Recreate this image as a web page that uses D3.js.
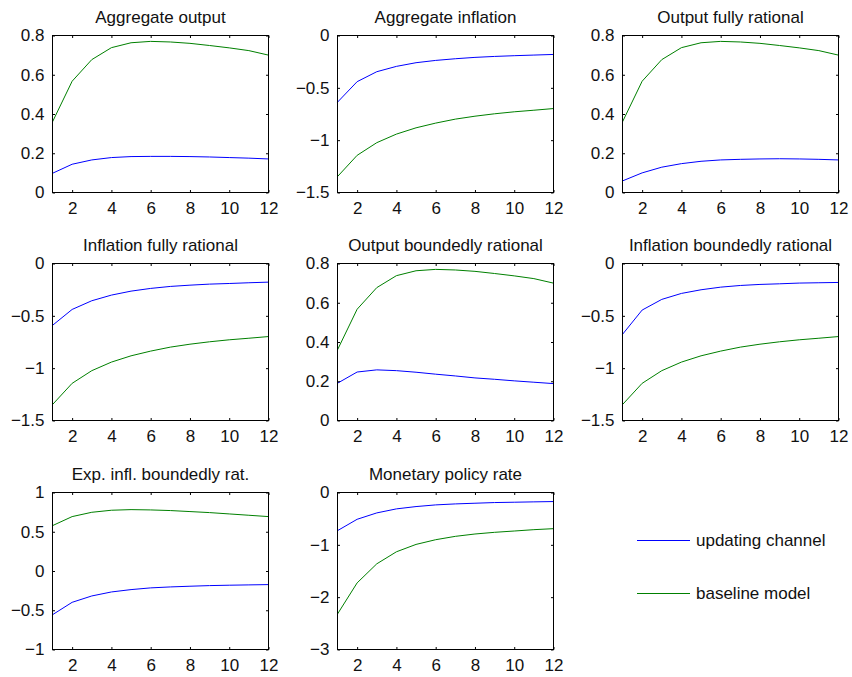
<!DOCTYPE html>
<html>
<head>
<meta charset="utf-8">
<script src="https://cdn.jsdelivr.net/npm/d3@7"></script>
<style>
  html, body { margin: 0; padding: 0; background: #fff; }
  svg { display: block; }
  text { font-family: "Liberation Sans", Arial, Helvetica, sans-serif; fill: #111; }
</style>
</head>
<body>
<svg id="chart" width="852" height="677"></svg>
<script>
// ---------- data ----------
const periods = [1, 2, 3, 4, 5, 6, 7, 8, 9, 10, 11, 12];
const xTickValues = [2, 4, 6, 8, 10, 12];

const titles = [
  "Aggregate output", "Aggregate inflation", "Output fully rational",
  "Inflation fully rational", "Output boundedly rational", "Inflation boundedly rational",
  "Exp. infl. boundedly rat.", "Monetary policy rate"
];

const seriesNames = ["updating channel", "baseline model"];

// y tick sets
const yTicksOutput = [0, 0.2, 0.4, 0.6, 0.8];
const yTicksInflation = [-1.5, -1, -0.5, 0];
const yTicksExpInfl = [-1, -0.5, 0, 0.5, 1];
const yTicksRate = [-3, -2, -1, 0];

// updating channel (blue)
const aggOutputUpd   = [0.098, 0.144, 0.166, 0.178, 0.183, 0.184, 0.184, 0.183, 0.181, 0.178, 0.175, 0.171];
const aggInflUpd     = [-0.637, -0.441, -0.346, -0.295, -0.260, -0.238, -0.222, -0.209, -0.200, -0.193, -0.187, -0.181];
const outFullUpd     = [0.059, 0.100, 0.129, 0.147, 0.159, 0.166, 0.169, 0.171, 0.172, 0.171, 0.169, 0.166];
const inflFullUpd    = [-0.591, -0.439, -0.356, -0.302, -0.264, -0.238, -0.219, -0.207, -0.197, -0.191, -0.184, -0.178];
const outBoundUpd    = [0.190, 0.247, 0.258, 0.254, 0.246, 0.236, 0.227, 0.217, 0.210, 0.202, 0.195, 0.188];
const inflBoundUpd   = [-0.677, -0.445, -0.343, -0.286, -0.251, -0.226, -0.210, -0.200, -0.194, -0.187, -0.184, -0.181];
const expInflUpd     = [-0.557, -0.399, -0.318, -0.267, -0.237, -0.215, -0.203, -0.194, -0.186, -0.181, -0.177, -0.173];
const rateUpd        = [-0.729, -0.512, -0.390, -0.313, -0.269, -0.237, -0.218, -0.205, -0.192, -0.186, -0.179, -0.173];

// baseline model (green)
const outputBase     = [0.360, 0.567, 0.677, 0.738, 0.763, 0.770, 0.767, 0.760, 0.749, 0.737, 0.723, 0.700];
const inflationBase  = [-1.348, -1.145, -1.024, -0.942, -0.882, -0.837, -0.799, -0.771, -0.748, -0.729, -0.714, -0.698];
const expInflBase    = [0.578, 0.693, 0.748, 0.774, 0.782, 0.778, 0.770, 0.757, 0.744, 0.727, 0.710, 0.693];
const rateBase       = [-2.322, -1.727, -1.363, -1.133, -0.992, -0.902, -0.838, -0.793, -0.761, -0.736, -0.710, -0.691];

// ---------- panels built from the arrays ----------
const panelUpd  = [aggOutputUpd, aggInflUpd, outFullUpd, inflFullUpd, outBoundUpd, inflBoundUpd, expInflUpd, rateUpd];
const panelBase = [outputBase, inflationBase, outputBase, inflationBase, outputBase, inflationBase, expInflBase, rateBase];
const panelTicks = [yTicksOutput, yTicksInflation, yTicksOutput, yTicksInflation, yTicksOutput, yTicksInflation, yTicksExpInfl, yTicksRate];

// ---------- layout ----------
const colLeft = [52.5, 337.5, 622.5];
const rowTop = [35.5, 263.5, 492.5];
const pw = 216, ph = 157;
const colors = ["#0000ff", "#008000"];
const fontSize = 17;
const tickLen = 2.5;

const svg = d3.select("#chart");
svg.append("rect").attr("width", 852).attr("height", 677).attr("fill", "#fff");

const fmt = v => (v < 0 ? "\u2212" : "") + String(Math.abs(v)).replace(/^0\./, "0.");

titles.forEach((title, i) => {
  const r = Math.floor(i / 3), c = i % 3;
  const g = svg.append("g").attr("transform", `translate(${colLeft[c]},${rowTop[r]})`);
  const yt = panelTicks[i];
  const x = d3.scaleLinear().domain([1, 12]).range([0, pw]);
  const y = d3.scaleLinear().domain([d3.min(yt), d3.max(yt)]).range([ph, 0]);

  // lines
  const line = d3.line().x((d, k) => x(periods[k])).y(d => y(d));
  [panelUpd[i], panelBase[i]].forEach((vals, s) => {
    g.append("path").datum(vals)
      .attr("fill", "none").attr("stroke", colors[s]).attr("stroke-width", 1)
      .attr("d", line);
  });

  // bottom axis (labels + inward ticks)
  const xb = d3.axisBottom(x).tickValues(xTickValues).tickSize(-tickLen).tickPadding(9).tickFormat(d3.format("d"));
  const gx = g.append("g").attr("transform", `translate(0,${ph})`).call(xb);
  const xt = d3.axisTop(x).tickValues(xTickValues).tickSize(-tickLen).tickFormat("");
  const gxt = g.append("g").call(xt);
  const yl = d3.axisLeft(y).tickValues(yt).tickSize(-tickLen).tickPadding(8).tickFormat(fmt);
  const gy = g.append("g").call(yl);
  const yr = d3.axisRight(y).tickValues(yt).tickSize(-tickLen).tickFormat("");
  const gyr = g.append("g").attr("transform", `translate(${pw},0)`).call(yr);

  [gx, gxt, gy, gyr].forEach(a => {
    a.select(".domain").remove();
    a.selectAll("line").attr("stroke", "#000").attr("stroke-width", 1);
    a.selectAll("text").style("font-size", fontSize + "px")
      .style("font-family", '"Liberation Sans", Arial, sans-serif').attr("fill", "#111");
  });

  // box
  g.append("rect").attr("width", pw).attr("height", ph)
    .attr("fill", "none").attr("stroke", "#000").attr("stroke-width", 1);

  // title
  g.append("text").attr("x", pw / 2).attr("y", -12.5)
    .attr("text-anchor", "middle").style("font-size", fontSize + "px").text(title);
});

// ---------- legend ----------
const legendY = [540, 593];
const legend = svg.append("g");
seriesNames.forEach((name, s) => {
  legend.append("line").attr("x1", 637).attr("x2", 690)
    .attr("y1", legendY[s] + 0.5).attr("y2", legendY[s] + 0.5)
    .attr("stroke", colors[s]).attr("stroke-width", 1);
  legend.append("text").attr("x", 696).attr("y", legendY[s]).attr("dy", "0.35em")
    .style("font-size", fontSize + "px").text(name);
});
</script>
</body>
</html>
